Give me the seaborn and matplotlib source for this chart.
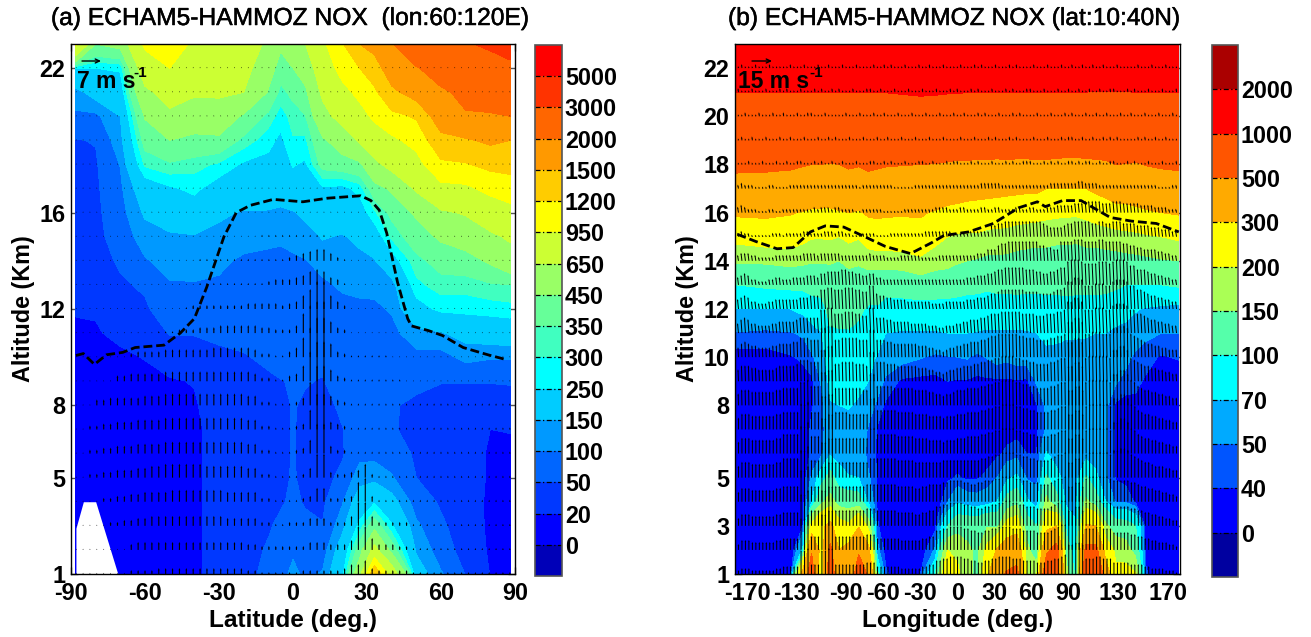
import numpy as np
import matplotlib
matplotlib.use("Agg")
import matplotlib.pyplot as plt
import matplotlib.patheffects as pe
import seaborn as sns

W, H = 1311, 637

# ---------- panel (a): NOX (altitude 23..1 km) by latitude
lat_a = [-88,-80,-70,-60,-50,-40,-30,-20,-10,-5,0,5,12,20,27,33,40,50,60,70,80,88]
alt = list(range(23, 0, -1))
nox_a_cols = [
 [1000,250,130,90,48,42,40,38,36,34,30,22,16,10,8,8,8,8,8,8,8,8,8],
 [450,250,180,88,52,45,42,40,38,36,32,22,18,12,10,10,10,10,10,10,10,10,10],
 [500,260,200,150,130,102,90,80,70,55,45,38,25,16,12,12,12,12,12,12,12,12,12],
 [1000,800,600,460,380,310,200,160,125,95,55,45,30,21,14,10,10,10,10,10,10,10,10],
 [1100,950,750,600,450,340,240,190,140,120,95,70,52,30,18,10,10,10,10,10,10,10,10],
 [900,780,680,530,420,320,265,210,145,125,96,78,52,35,21,18,15,15,15,15,15,15,15],
 [850,760,680,560,420,290,215,160,135,112,92,75,58,42,35,30,30,30,30,30,30,30,30],
 [800,720,650,430,330,240,205,145,125,90,78,68,58,48,38,32,32,32,32,32,32,32,32],
 [600,520,440,330,270,230,190,145,110,90,80,72,65,55,46,35,35,35,35,35,45,55,65],
 [480,390,330,275,235,210,180,140,105,92,85,78,70,60,49,42,42,42,42,45,60,70,80],
 [540,450,370,320,295,255,210,145,110,95,85,78,70,58,52,52,52,52,53,58,70,90,115],
 [650,530,420,345,290,240,215,165,125,98,85,75,65,58,52,46,42,40,42,46,60,78,88],
 [900,780,690,580,430,380,240,190,155,120,90,72,65,58,48,40,38,36,36,42,52,75,105],
 [1180,1050,870,730,520,400,230,190,145,125,108,85,78,72,66,56,49,46,60,95,130,190,230],
 [1500,1200,1020,850,680,420,270,210,165,135,112,90,80,75,70,65,62,85,125,190,270,390,560],
 [1620,1350,1150,1000,800,600,400,290,200,145,115,90,80,75,72,70,68,85,130,240,400,720,1450],
 [1950,1700,1430,1130,900,720,470,370,310,215,125,105,85,75,65,52,52,75,105,175,260,400,800],
 [2700,1950,1650,1230,1030,860,680,470,395,330,285,220,130,85,55,46,44,43,50,75,110,140,190],
 [2800,2350,1900,1700,1400,1150,880,620,470,380,325,265,145,80,51,42,38,36,38,44,58,75,105],
 [2950,2650,2150,1950,1460,1180,900,670,520,400,320,270,175,115,51,42,38,35,32,28,26,30,48],
 [3100,2750,2280,1950,1560,1270,1020,790,610,470,340,275,190,105,51,40,20,16,17,17,18,18,19],
 [3200,2900,2400,2000,1500,1300,1060,880,680,560,350,280,200,105,52,40,21,15,14,14,14,15,16],
]
levels_a = [-50,0,20,50,100,150,250,300,350,450,650,950,1200,1500,2000,3000,5000,9000]
colors_a = ['#0000b8','#0000ff','#0038ff','#0066ff','#0099ff','#00ccff','#00ffff','#40ffc0',
            '#66ff99','#99ff66','#ccff33','#ffff00','#ffcc00','#ff9900','#ff6600','#ff3300','#ff0000']
terrain_lat = [-88,-85,-80,-71]
terrain_top = [2.9,4.0,4.0,1.0]
trop_lat_a = [-88,-85,-80.5,-75.6,-69,-64,-52.3,-45.7,-40,-35,-28,-23,-17.4,-8,4,14,27.5,31.6,35,38,42.4,46.5,48,55,60.6,69,79,86.4]
trop_alt_a = [10.07,10.15,9.7,10.1,10.2,10.4,10.5,11,11.6,12.9,15,16,16.3,16.55,16.45,16.6,16.7,16.5,16.1,15.15,13.1,11.6,11.3,11.1,10.9,10.4,10.1,9.9]

# vertical wind as base-36 arrow lengths, rows z = 22..1, 64 latitudes
zero64 = "0"*64
w_a = [zero64]*7 + [
 "0"*27+"1"*10+"0"*27,
 "0"*18+"1"*13+"23456642"+"1"+"0"*24,
 "0"*18+"1"*10+"233"+"34578743"+"1"+"0"*24,
 "0"*16+"122222222333332"+"347aee74"+"2"+"0"*24,
 "0"*12+"111222"+"3334444443322"+"24aegg63"+"2"+"0"*24,
 "0"*8+"2333344444445"+"555554"+"2211"+"35afkk73"+"2"+"1"*6+"0"*18,
 "0"*6+"334444455555555555554"+"2211"+"348fkk63"+"2"+"1"*8+"0"*16,
 "0"*3+"334444455566666666666655"+"2211"+"124ckk53"+"2"+"1"*24,
 "00"+"2233444555566666666666655"+"2211"+"123aii43"+"2"+"1"*24,
 "00"+"2233444555566666666666655"+"2211"+"1237ff42"+"2"+"1"*24,
 "00"+"2233444556677777766666655"+"2211"+"1125cc32"+"2"+"3472"+"1"*20,
 "0000"+"22334455556666666655555"+"2211"+"11237722"+"2"+"3ac3"+"1"*20,
 "0"*5+"2233445555555555544444"+"2211"+"22244422"+"2"+"5cc5"+"22222"+"1"*15,
 "0"*8+"3444444444444444433"+"2222"+"22244433"+"3"+"5cc6"+"33322"+"1"*15,
 "0"*8+"2222333333333333322"+"1111"+"11222222"+"3"+"5573"+"2"*5+"1"*15,
]

# ---------- panel (b): NOX (altitude 23..1 km) by longitude
lon_b = [-179,-155,-135,-125,-118,-110,-103,-96,-88,-80,-72,-65,-58,-45,-30,-18,-8,0,8,16,24,32,40,48,56,64,72,80,88,96,104,112,120,128,136,144,152,165,179]
nox_b_cols = [
 [1500,1300,1005,800,650,540,428,317,219,156,100,70,49,35,30,28,28,28,28,28,28,28,28],
 [1500,1300,1005,800,650,535,426,321,233,157,105,69,47,36,29,28,28,28,28,28,28,28,28],
 [1500,1300,1005,800,650,525,416,307,236,164,108,70,49,39,30,28,28,28,28,28,28,28,28],
 [1500,1300,1005,800,650,510,400,293,217,159,108,76,52,42,35,32,32,33,34,36,40,75,350],
 [1500,1300,1005,800,650,500,390,283,205,154,114,81,63,47,38,39,42,42,52,70,220,480,620],
 [1500,1300,1005,800,650,500,385,280,204,155,113,88,69,60,52,45,45,47,85,140,280,240,170],
 [1500,1300,1005,800,650,490,380,280,207,154,125,112,95,85,77,68,62,67,115,170,330,560,650],
 [1500,1300,1005,800,650,500,395,290,200,150,130,112,97,88,79,70,64,62,80,130,230,300,330],
 [1500,1300,1005,800,650,520,415,300,215,158,133,115,97,88,80,71,65,62,71,125,210,340,360],
 [1500,1300,1005,800,650,510,405,290,205,155,130,107,92,83,74,68,62,62,70,120,290,480,600],
 [1500,1300,1005,800,650,530,425,315,235,165,125,95,85,78,70,58,48,45,52,66,180,330,480],
 [1500,1300,1005,800,650,520,420,320,240,170,115,97,85,68,58,47,39,39,39,39,41,55,110],
 [1500,1300,1005,800,650,510,410,315,240,170,115,85,70,60,47,38,36,36,36,35,35,35,42],
 [1500,1300,1020,800,650,505,410,310,245,172,115,87,68,55,38,32,30,30,30,30,30,30,30],
 [1500,1300,1040,800,650,500,405,310,265,185,125,85,68,51,37,30,30,30,30,30,30,33,40],
 [1500,1300,1030,800,650,495,385,290,220,170,120,86,68,47,37,30,30,30,30,30,37,52,100],
 [1500,1300,1015,800,650,480,370,270,200,165,118,86,70,49,40,33,32,33,38,50,100,200,280],
 [1500,1300,1010,800,650,470,365,260,190,155,115,85,70,50,39,35,34,35,41,66,130,190,210],
 [1500,1300,1005,800,650,470,350,255,190,150,110,85,70,51,39,37,36,36,38,58,130,160,170],
 [1500,1300,1005,800,650,460,345,250,190,146,110,83,69,46,38,37,36,36,39,56,125,140,130],
 [1500,1300,1005,800,650,460,340,245,180,140,107,80,68,51,38,36,35,36,42,60,145,220,270],
 [1500,1300,1005,800,650,455,335,240,180,140,108,85,67,55,38,36,36,38,50,70,135,310,450],
 [1500,1300,1005,800,650,460,330,235,178,138,108,85,67,53,38,36,36,42,65,115,230,370,520],
 [1500,1300,1005,800,650,455,325,230,170,135,110,85,67,56,39,37,37,44,75,135,250,400,560],
 [1500,1300,1005,800,650,455,320,225,168,132,108,85,68,56,38,37,37,40,48,75,120,170,195],
 [1500,1300,1005,800,650,460,320,222,165,130,108,85,70,60,52,39,38,40,45,60,100,105,190],
 [1500,1300,1005,800,650,460,300,215,165,130,108,88,75,65,58,53,52,72,105,165,260,460,680],
 [1500,1300,1005,800,650,450,300,212,160,130,108,88,74,65,60,57,56,60,78,115,300,580,620],
 [1500,1300,1005,800,650,440,300,210,160,130,108,90,72,64,60,57,56,56,60,65,90,120,175],
 [1500,1300,1005,800,650,440,300,208,158,130,107,90,72,64,60,58,58,60,62,65,72,80,85],
 [1500,1300,1000,800,650,450,300,215,165,130,107,90,72,62,58,56,56,60,105,160,310,560,680],
 [1500,1300,985,800,650,460,320,230,165,130,108,88,70,62,58,56,55,60,75,120,300,560,780],
 [1500,1300,985,800,650,470,340,240,170,132,108,86,70,60,55,53,52,52,52,70,160,240,370],
 [1500,1300,985,800,650,500,370,255,175,132,105,80,66,58,52,38,38,38,39,48,120,190,210],
 [1500,1300,995,800,650,495,370,260,180,135,100,78,63,55,45,36,35,35,36,48,115,175,220],
 [1500,1300,1000,800,650,485,380,270,183,137,100,72,58,47,42,38,36,35,35,38,100,130,205],
 [1500,1300,1005,800,650,505,395,285,190,140,100,68,54,43,39,36,36,36,35,35,36,37,42],
 [1500,1300,1005,800,650,520,410,300,200,146,100,65,50,39,33,30,30,30,30,30,30,30,30],
 [1500,1300,1005,800,650,530,415,310,210,150,104,62,50,41,33,30,30,30,30,30,30,30,30],
]
levels_b = [-50,0,40,50,70,100,150,200,300,500,1000,2000,4000]
colors_b = ['#0000a0','#0000ff','#0055ff','#00aaff','#00ffff','#55ffaa','#aaff55','#ffff00',
            '#ffaa00','#ff5500','#ff0000','#aa0000']
trop_lon_b = [-178,-163,-146,-133,-119,-107,-92,-75,-58.5,-38,-21,-11,9,29,49.4,64.6,71,85,100,110,123.6,140.5,160.8,179]
trop_alt_b = [15.1,14.8,14.5,14.55,15.2,15.45,15.4,15,14.6,14.3,14.75,15.05,15.2,15.55,16.2,16.45,16.25,16.5,16.5,16.2,15.8,15.65,15.55,15.2]

# vertical wind as base-36 arrow lengths, rows z = 22..1, 128 longitudes
w_b = [
 "11211121112111 11211 121 112 1121 1121112111 12 1121211121112 1121112111 121112121112111212111 12111211121 12112 11211211 12111 11211121112111",
 "12111211121112 12111 211 121 2112 1211121112 21 1211121112111 2111211121 211121211121112121112 21112111211 21121 12112112 21112 12111211121112",
 "11121112111211 21112 112 211 1211 1112111211 12 1121112111211 1211121112 112111212111211121211 11211121112 12111 21121121 11211 21112111211121",
 "11211211121112 11211 121 112 1121 2111211121 11 2112111211121 1121112111 121112111212111212111 12111211121 22112 11211212 12111 11212112112111",
 "21112111211121 12112 211 121 2112 1121112111 22 1121211121112 2112111212 211121211121112121122 21112121211 22121 22112112 21112 12111211121112",
 "22322211112211 11222 222 222 2222 2222222122 22 2222211111122 2222222222 222222233333322222222 22222233333 33344 33332222 22222 22222222111122",
 "33432221112211 22222 222 232 3332 3322221122 22 2211111122222 2222333322 233222233223322223322 33222333444 44555 66666555 66655 55544443333222",
 "22322111111222 12222 233 222 2333 2332211122 22 1111222222222 2333333332 222233333366778888888 88887655556 77888 88778877 88877 77666655544433",
 "33444332222233 33333 344 443 4444 4433333333 43 3332222333333 2222233333 333333444666899aaaaaa aaa887766aa aabbb aaaabbaa aaa99 88776666554433",
 "44565332223344 33344 445 554 6677 7788776655 66 4433333333333 3333333333 333444555667889999998 88776677899 cdddc bbbbcccb cdddc aa888766554433",
 "55676443334455 55555 666 777 aabb aaabbbaa99 cc 8776655554444 4443333444 4445556667889aaaaaaa9 99988889aab eeggf cccdddcc efffe ccaa9877665544",
 "55787554444556 66667 888 888 ccdd aaabbbaa99 dd 8887766666555 5544433444 5566777889aaabbbbbbaa aa999aaabbc ggiig cccdddcc efffe ccaa9877665544",
 "55787665555667 77788 aaa 999 ffgg 99aaaaa999 ee 9998877777776 6655443455 667788899abbccccccbba aa9999aabbc iikki ccdddccc ffggf cba98776655444",
 "66888776666678 88889 bbb aaa ggii 99aaaa9998 ff aaa9998888887 7766554566 7788899aabbccddddccbb aa9999aabcc kkmmk cddddddc ggiig cba98877665544",
 "66888777777788 99999 ccd aaa hhii 9999999988 gg aaaaa99999988 8877665667 8889999aabbccddddccbb aa9999aabcc kkmmk cddddddc ggiig dca98877665544",
 "66888777777788 99999 dde 999 hhii 9999888888 gg aaaaaa9999988 8877776777 8889999aabbccddddccbb aa9999aabcc kkmmk cddddddc ggiig dca98877665544",
 "66888777777788 aaaaa eeg 999 iikk 8888888888 dd aaaaaa9999988 8877776777 8889999aabbccddddccbb aa9999aabcc kkmmk cddddddc ggiig dca98877665544",
 "66888777777788 aaaaa eeg 999 iikk 8888888888 aa aaaaaa9999988 8888889999 9999999aabbccddddccbb aa9999abccd kkmmk cddddddc eeffe cba98876665544",
 "55777666666677 88888 ggi 888 iikk 8888888889 99 9999998888877 889999aabb bbaa99aabbbccddddccbb aaa999abccd kkmmk cddddddc bbbbb aa988776655443",
 "44666555555566 77777 ggi 888 iikk 8888888889 99 8888887777766 7788aabbcc ccbbaa99aabbccddccbba aa9999abcdd kkmmk cccddccc aaaaa 99887766554433",
 "33555444444455 66666 ggi 777 iikk 7777777778 88 6666666555555 6677aabbcc ccbbaa99aabbccccbbbaa aa9999abcdd kkmmk bbbccbbb 99999 88776655444332",
 "22333222222233 44444 ccd 555 ccdd 5555555556 66 4444444333333 4455778899 998877667788999988877 7766677889a ffggf 88899888 66666 55554433332221",
]
# slight zonal tilt of the arrows by level (z = 22..1)
u_b = [-0.5,-0.5,-0.5,-0.5,-0.5,-0.8,-1,-1,-1,-1,-1,-1,-0.5,-0.5,-0.3,0,0,0,0,0,0,0]

alt_w = list(range(22, 0, -1))
xticks_a = [-90,-60,-30,0,30,60,90]
yticks_a = [1,5,8,12,16,22]
xticks_b = [-170,-130,-90,-60,-30,0,30,60,90,130,170]
yticks_b = [1,3,5,8,10,12,14,16,18,20,22]

sns.set_theme(style="white")
plt.rcParams['font.family'] = ['Liberation Sans', 'DejaVu Sans']
plt.rcParams['axes.unicode_minus'] = False
plt.rcParams['text.color'] = 'black'
plt.rcParams['axes.labelcolor'] = 'black'
plt.rcParams['xtick.color'] = 'black'
plt.rcParams['ytick.color'] = 'black'

fig = plt.figure(figsize=(W/100, H/100), dpi=100, facecolor='white')

def box(x0, x1, y0, y1):
    return fig.add_axes([x0/W, 1-y1/H, (x1-x0)/W, (y1-y0)/H])

FS = 16.8
def decorate(ax, cf, cax, levels, xlim, xticks, yticks, xlabel, title, tx, wrows, xw, urow, trx, try_,
             key, keytx, keysx, arrow0, arrowlen, qwidth):
    ax.set_xlim(*xlim); ax.set_ylim(1, 23)
    rows = [r.replace(" ", "").ljust(len(xw), '1')[:len(xw)] for r in wrows]
    V = np.array([[max(int(c, 36)*2.0, 1.2) for c in r] for r in rows])
    U = np.array([[u]*len(xw) for u in urow], dtype=float)
    ax.quiver(xw, alt_w, U, V, angles='uv', scale_units='dots', scale=1, units='dots',
              width=qwidth, headwidth=1.7, headlength=2.2, headaxislength=2.0, minshaft=1,
              minlength=0.3, pivot='tail', color='black', zorder=3, clip_on=True)
    sns.lineplot(x=trx, y=try_, ax=ax, color='black', lw=2.0, sort=False, estimator=None,
                 linestyle=(0, (3.2, 1.4)), zorder=4, legend=False)
    ax.set_xticks(xticks); ax.set_yticks(yticks)
    ax.tick_params(axis='y', which='major', direction='in', length=5, width=1, color='#555555',
                   left=True, right=True, labelsize=FS, pad=4, labelcolor='black')
    ax.tick_params(axis='x', which='major', direction='in', length=5, width=1, color='#555555',
                   top=True, bottom=True, labelsize=FS, pad=6, labelcolor='black')
    for l in ax.get_xticklabels()+ax.get_yticklabels():
        l.set_fontweight('bold')
    ax.set_xlabel(xlabel, fontsize=17.6, fontweight='bold', labelpad=3)
    ax.set_ylabel('Altitude (Km)', fontsize=16.8, fontweight='bold', labelpad=3)
    for s in ax.spines.values():
        s.set_visible(True); s.set_color('black'); s.set_linewidth(1)
    t = fig.text(tx/W, 1-18/H, title, fontsize=17.7, fontweight='normal', ha='center', va='center', color='black')
    t.set_path_effects([pe.withStroke(linewidth=0.35, foreground='black')])
    # colour bar
    cb = fig.colorbar(cf, cax=cax, spacing='uniform', ticks=levels[1:-1])
    cb.ax.set_yticklabels([str(v) for v in levels[1:-1]], fontsize=FS, fontweight='bold')
    cb.ax.tick_params(length=0, pad=2)
    cb.outline.set_edgecolor('#555555'); cb.outline.set_linewidth(1.2)
    cb.ax.hlines(levels[1:-1], 0, 1, transform=cb.ax.get_yaxis_transform(), colors='black',
                 linestyles=(0, (4, 2, 1, 2)), lw=0.9)
    # reference arrow and its label
    bw, bh = ax.bbox.width, ax.bbox.height
    ax.annotate('', xy=((arrow0+arrowlen)/bw, 1-17/bh), xytext=(arrow0/bw, 1-17/bh), xycoords='axes fraction',
                arrowprops=dict(arrowstyle='->,head_length=0.25,head_width=0.12', lw=1, color='black',
                                shrinkA=0, shrinkB=0), zorder=6)
    ax.text(keytx/bw, 1-38/bh, key, transform=ax.transAxes, fontsize=16.5,
            fontweight='bold', ha='left', va='center', zorder=6)
    ax.text(keysx/bw, 1-29/bh, '-1', transform=ax.transAxes, fontsize=11,
            fontweight='bold', ha='left', va='center', zorder=6)

# panel a
ax_a = box(71, 515, 44, 574)
cf_a = ax_a.contourf(lat_a, alt[::-1], np.array(nox_a_cols, dtype=float).T[::-1], levels=levels_a,
                     colors=colors_a, zorder=1)
ax_a.fill_between(terrain_lat, 1, terrain_top, color='white', lw=0, zorder=2)
cax_a = box(535, 562, 45, 576)
decorate(ax_a, cf_a, cax_a, levels_a, (-90, 90), xticks_a, yticks_a, 'Latitude (deg.)',
         '(a) ECHAM5-HAMMOZ NOX  (lon:60:120E)', 290, w_a, np.linspace(-87.9, 87.9, 64),
         [0.0]*22, trop_lat_a, trop_alt_a, '7 m s', 6, 62, 11, 19, 1.1)

# panel b
ax_b = box(735, 1180, 44, 574)
cf_b = ax_b.contourf(lon_b, alt[::-1], np.array(nox_b_cols, dtype=float).T[::-1], levels=levels_b,
                     colors=colors_b, zorder=1)
cax_b = box(1212, 1238, 45, 577)
decorate(ax_b, cf_b, cax_b, levels_b, (-180, 180), xticks_b, yticks_b, 'Longitude (deg.)',
         '(b) ECHAM5-HAMMOZ NOX (lat:10:40N)', 954, w_b, np.linspace(-180, 177.2, 128),
         u_b, trop_lon_b, trop_alt_b, '15 m s', 3, 74, 17, 20, 1.0)

fig.savefig('out.png', dpi=100, facecolor='white')
